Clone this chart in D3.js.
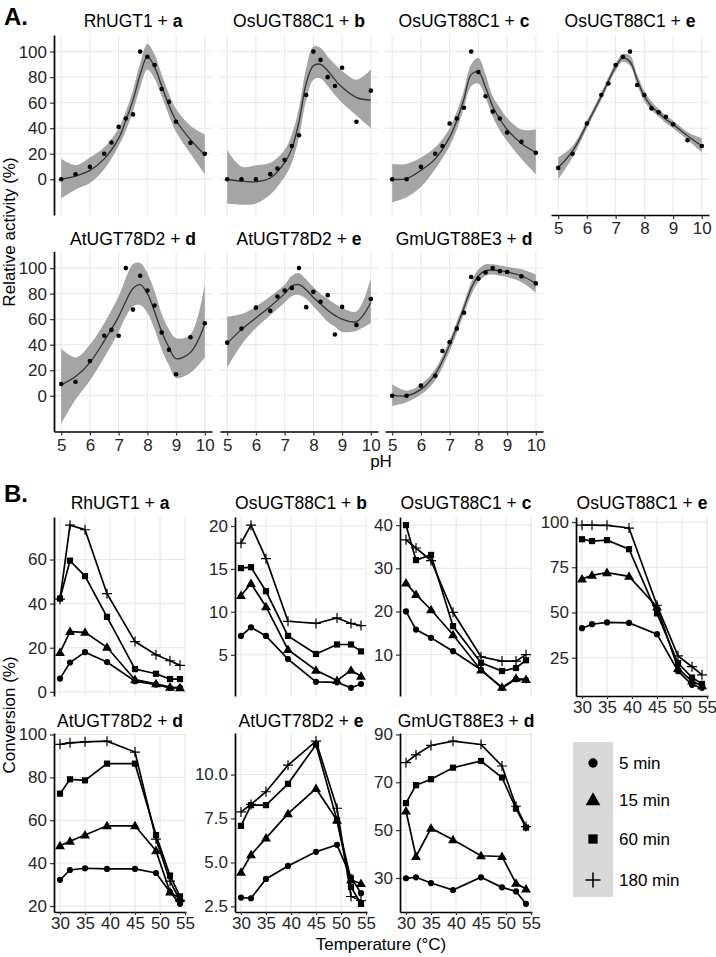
<!DOCTYPE html>
<html><head><meta charset="utf-8">
<script src="https://cdn.jsdelivr.net/npm/d3@7"></script>
<style>body{margin:0;background:#fff} svg text{font-family:"Liberation Sans",Arial,Helvetica,sans-serif;}</style>
</head><body><svg id="c" width="716" height="957"></svg>
<script>
// ---------------- DATA ----------------
// Panel A: pH profiles
const aEnzymes = ["RhUGT1","OsUGT88C1","OsUGT88C1","OsUGT88C1","AtUGT78D2","AtUGT78D2","GmUGT88E3"];
const aSubstrates = ["a","b","c","e","d","e","d"];
const phPoints = [5,5.5,6,6.5,6.75,7,7.25,7.5,7.75,8,8.25,8.5,8.75,9,9.5,10];
const aPoints = [
  [0,3.9,9.7,20,28.8,41,47.6,50.8,100,96,89.5,70.7,60.7,45,28.5,19.9],
  [0,0,0,4,8.4,15,26,34.5,66,100,93.5,80,73,87.4,45,69.4],
  [0,0,9.7,20,26,43.7,47.6,56,100,84,65,53,47.6,36.6,29.3,20.7],
  [8.9,20,43.7,66,75,89.5,96,100,73.8,66,55.5,52.4,49,43,30.6,26],
  [9.2,11,27.2,47,51.6,47,100,67.5,94,82.5,70.7,49.5,36,16.8,45.8,56.8],
  [41.6,52.6,69,66.5,77.7,82.5,84.5,100,69.4,81.4,73.6,78.8,48,69.6,55.5,75.7],
  [0,0,7.9,15.7,35,42,52.6,65,93,91.6,96.6,100,97.6,96.9,93.5,88]
];
const fitPH = [5,5.5,6,6.5,7,7.25,7.5,7.75,8,8.25,8.5,8.75,9,9.5,10];
const aFit = [
  [0,2.5,7,16,32,46,62,82,96,88,73,58,46,31,19],
  [0,-1.5,-2,1,13,24,45,75,89,90,85,78,72,64,62],
  [0,0.5,7,16,33,46,63,82,84,72,57,47,39,28,21],
  [9,22,43,65,88,95,92,78,65,57,52,47,43,34,26],
  [8.5,15,26,43,62,74,84,87,80,66,50,38,29,34,56],
  [41,52,61,70,80,86,87,83,77,72,67,63,60,58,73],
  [0.5,0,5,17,40,54,69,84,94,98,98.5,98,97,94,88]
];
const aLow = [
  [-15,-8,-3,8,26,38,53,72,86,79,65,50,37,20,4],
  [-19,-20,-19,-12,2,13,33,62,78,79,73,66,60,50,40],
  [-18,-14,-6,8,26,39,56,73,75,64,49,38,30,16,4],
  [0,17,40,62,85,92,89,74,61,54,49,44,40,31,21],
  [-22,-3,12,30,50,62,70,71,65,52,36,24,14,18,30],
  [22,40,53,63,73,78,79,76,70,64,58,54,50,51,57],
  [-8,-5,1,12,35,49,64,79,89,94,95,94,93,89,81]
];
const aHigh = [
  [16,11,17,25,40,53,70,91,106,98,82,67,55,42,35],
  [23,10,11,13,23,35,56,87,104,103,96,90,85,78,86],
  [12,12,17,25,40,53,70,90,95,82,65,56,48,39,39],
  [17,26,46,68,91,98,97,82,69,61,55,50,46,37,32],
  [37,30,40,57,78,92,103,104,96,82,64,52,45,48,88],
  [62,64,70,78,87,94,96,91,85,80,76,72,69,66,92],
  [9,4,9,21,44,58,73,89,99,103,103,102,101,99,95]
];
const aXTicks = [5,6,7,8,9,10];
const aYTicks = [0,20,40,60,80,100];

// Panel B: temperature profiles
const bEnzymes = ["RhUGT1","OsUGT88C1","OsUGT88C1","OsUGT88C1","AtUGT78D2","AtUGT78D2","GmUGT88E3"];
const bSubstrates = ["a","b","c","e","d","e","d"];
const temps = [30,32,35,39.4,45,49.2,52,54];
const timeLabels = ["5 min","15 min","60 min","180 min"];
const bSeries = [
  [[6.0,13.3,18,13.5,4.8,3.3,1.8,1.8],[17.8,27.3,27,20.2,5.5,3.6,2.1,1.8],[42.3,59.5,52.5,34,10.3,8.2,5.8,5.8],[42,75.6,73.5,44.5,22.8,16.8,14.1,12]],
  [[7.2,8.2,7.2,4.5,1.85,1.8,1.15,1.6],[11.9,13.3,10.6,5.6,3.2,2.0,3.2,2.5],[15.1,15.2,12.4,7.2,5.1,6.2,6.2,5.4],[18,20.1,16.2,8.9,8.65,9.3,8.65,8.4]],
  [[20,15.8,13.9,10.8,6.5,2.3,4.3,4.1],[26.6,23.9,20.4,14.6,6.4,2.4,4.5,4.2],[40,31.9,33.1,16.6,8.1,6.2,6.9,8.7],[36.6,34.7,31.8,19.8,9.5,8.5,8.5,10]],
  [[41.3,43.5,44.5,44.2,38,17.5,10,8.3],[68.5,70.5,72,70,53,19,12,9.5],[90.5,89.5,90,85,49.5,22,14,10.5],[98.3,98.3,98.2,96.7,54,26,20,15.5]],
  [[32.2,36.8,37.6,37.3,37.3,35.4,26.5,21],[48.1,50.2,53.1,57.4,57.4,45.8,26.5,23.4],[72.4,79.1,78.6,86.4,86.4,53.1,34.2,24.5],[95.4,96.1,96.6,96.9,91.8,51.2,31.6,22.6]],
  [[3.0,2.96,4.06,4.8,5.6,6.0,4.15,3.25],[4.43,5.43,6.38,7.77,9.2,7.4,4.0,3.8],[7.08,8.26,8.26,9.47,11.7,7.4,3.6,2.64],[7.87,8.3,9.02,10.53,11.9,8.08,3.06,2.83]],
  [[29.9,30.3,27.9,25,30.3,26.1,24.4,19.2],[58,39,50.8,46,39.3,39,27.8,25.4],[61.3,68.8,71.3,76.1,78.9,72,59,51.1],[78.2,81.5,85.4,87.2,85.8,76.8,60,51.5]]
];
const bXTicks = [30,35,40,45,50,55];
const bYTicks = [[0,20,40,60],[5,10,15,20],[10,20,30,40],[25,50,75,100],[20,40,60,80,100],[2.5,5.0,7.5,10.0],[30,50,70,90]];
const bYFormat = ["d","d","d","d","d",".1f","d"];

// ---------------- LAYOUT ----------------
const svg = d3.select("#c");
const GRID = "#e6e6e6", TICKC = "#262626";
const FS = 17;

function styleAxis(g){
  g.select(".domain").attr("stroke","#000").attr("stroke-width",1.7);
  g.selectAll(".tick line").attr("stroke","#333").attr("stroke-width",1.2);
  g.selectAll(".tick text").attr("font-size",FS).attr("fill",TICKC)
    .attr("font-family",'"Liberation Sans",Arial,sans-serif');
  g.attr("font-family",null).attr("font-size",null);
}
function title(cx, base, enz, sub){
  const t = svg.append("text").attr("x",cx).attr("y",base).attr("text-anchor","middle")
    .attr("font-size",17.5).attr("fill","#000");
  t.append("tspan").text(enz + " + ");
  t.append("tspan").attr("font-weight","bold").text(sub);
}

// ---- Panel A ----
const aLeft = [54,220,385,551], aTop = [35,251.5], aW = 158, aH = 180;
svg.append("text").attr("x",4).attr("y",25).attr("font-size",24).attr("font-weight","bold").text("A.");
aEnzymes.forEach((enz,i)=>{
  const col = i%4, row = Math.floor(i/4);
  const x0 = aLeft[col], y0 = aTop[row];
  const x = d3.scaleLinear().domain([4.75,10.25]).range([x0,x0+aW]);
  const y = d3.scaleLinear().domain([-28,113]).range([y0+aH,y0]);
  const g = svg.append("g");
  aXTicks.forEach(t=>g.append("line").attr("x1",x(t)).attr("x2",x(t)).attr("y1",y0).attr("y2",y0+aH).attr("stroke",GRID).attr("stroke-width",1));
  aYTicks.forEach(t=>g.append("line").attr("x1",x0).attr("x2",x0+aW).attr("y1",y(t)).attr("y2",y(t)).attr("stroke",GRID).attr("stroke-width",1));
  const fit = fitPH.map((p,k)=>({p, f:aFit[i][k], lo:aLow[i][k], hi:aHigh[i][k]}));
  g.append("path").datum(fit).attr("fill","#9b9b9b").attr("fill-opacity",0.9)
    .attr("d", d3.area().x(d=>x(d.p)).y0(d=>y(d.lo)).y1(d=>y(d.hi)).curve(d3.curveCatmullRom));
  g.append("path").datum(fit).attr("fill","none").attr("stroke","#333").attr("stroke-width",1.3)
    .attr("d", d3.line().x(d=>x(d.p)).y(d=>y(d.f)).curve(d3.curveCatmullRom));
  g.selectAll("circle.pt").data(phPoints.map((p,k)=>({p,v:aPoints[i][k]}))).join("circle")
    .attr("cx",d=>x(d.p)).attr("cy",d=>y(d.v)).attr("r",2.3).attr("fill","#000");
  if(col===0){
    const ax = svg.append("g").attr("transform",`translate(${x0},0)`)
      .call(d3.axisLeft(y).tickValues(aYTicks).tickFormat(d3.format("d")).tickSize(4).tickPadding(3).tickSizeOuter(0));
    styleAxis(ax);
  }
  if(row===1 || i===3){
    const ax = svg.append("g").attr("transform",`translate(0,${y0+aH})`)
      .call(d3.axisBottom(x).tickValues(aXTicks).tickFormat(d3.format("d")).tickSize(4).tickPadding(3).tickSizeOuter(0));
    styleAxis(ax);
  }
  title(x0+aW/2, row===0?27:245, enz, aSubstrates[i]);
});
svg.append("text").attr("transform","translate(15,232) rotate(-90)").attr("text-anchor","middle")
  .attr("font-size",17).text("Relative activity (%)");
svg.append("text").attr("x",381).attr("y",467).attr("text-anchor","middle").attr("font-size",17).text("pH");

// ---- Panel B ----
const bLeft = [[54,235,400,576],[54,235,400]], bTop = [517,733], bW = 132, bH = 179;
svg.append("text").attr("x",4).attr("y",502).attr("font-size",24).attr("font-weight","bold").text("B.");
const shapes = ["circle","triangle","square","plus"];
function marker(g, type, cx, cy, s){
  if(type==="circle") g.append("circle").attr("cx",cx).attr("cy",cy).attr("r",3.1*s).attr("fill","#000");
  else if(type==="triangle") g.append("path").attr("transform",`translate(${cx},${cy+0.6*s})`)
    .attr("d",d3.symbol(d3.symbolTriangle, 42*s*s)()).attr("fill","#000");
  else if(type==="square") g.append("rect").attr("x",cx-3.1*s).attr("y",cy-3.1*s).attr("width",6.2*s).attr("height",6.2*s).attr("fill","#000");
  else { const h=5*s; g.append("path").attr("d",`M${cx-h},${cy}H${cx+h}M${cx},${cy-h}V${cy+h}`).attr("stroke","#000").attr("stroke-width",1.2*Math.min(s,1.3)).attr("fill","none"); }
}
bEnzymes.forEach((enz,i)=>{
  const col = i%4, row = Math.floor(i/4);
  const x0 = bLeft[row][col], y0 = bTop[row];
  const x = d3.scaleLinear().domain([28.8,55.2]).range([x0,x0+bW]);
  const all = bSeries[i].flat();
  const [mn,mx] = d3.extent(all), pad = (mx-mn)*0.05;
  const y = d3.scaleLinear().domain([mn-pad,mx+pad]).range([y0+bH,y0]);
  const g = svg.append("g");
  bXTicks.forEach(t=>g.append("line").attr("x1",x(t)).attr("x2",x(t)).attr("y1",y0).attr("y2",y0+bH).attr("stroke",GRID).attr("stroke-width",1));
  bYTicks[i].forEach(t=>g.append("line").attr("x1",x0).attr("x2",x0+bW).attr("y1",y(t)).attr("y2",y(t)).attr("stroke",GRID).attr("stroke-width",1));
  bSeries[i].forEach((ser,s)=>{
    const pts = temps.map((t,k)=>({t,v:ser[k]}));
    g.append("path").datum(pts).attr("fill","none").attr("stroke","#000").attr("stroke-width",1.7)
      .attr("d", d3.line().x(d=>x(d.t)).y(d=>y(d.v)));
    pts.forEach(d=>marker(g, shapes[s], x(d.t), y(d.v), 1));
  });
  const ay = svg.append("g").attr("transform",`translate(${x0},0)`)
    .call(d3.axisLeft(y).tickValues(bYTicks[i]).tickFormat(d3.format(bYFormat[i])).tickSize(4).tickPadding(3).tickSizeOuter(0));
  styleAxis(ay);
  if(row===1 || i===3){
    const ax = svg.append("g").attr("transform",`translate(0,${y0+bH})`)
      .call(d3.axisBottom(x).tickValues(bXTicks).tickFormat(d3.format("d")).tickSize(3).tickPadding(2).tickSizeOuter(0));
    styleAxis(ax);
  }
  title(x0+bW/2, row===0?509:727, enz, bSubstrates[i]);
});
svg.append("text").attr("transform","translate(15,715) rotate(-90)").attr("text-anchor","middle")
  .attr("font-size",17).text("Conversion (%)");
svg.append("text").attr("x",381).attr("y",950).attr("text-anchor","middle").attr("font-size",17).text("Temperature (°C)");

// legend
const lg = svg.append("g");
lg.append("rect").attr("x",573).attr("y",742).attr("width",40).attr("height",155).attr("fill","#d9d9d9");
const lgY = [763,800,839,880];
timeLabels.forEach((lab,k)=>{
  marker(lg, shapes[k], 593, lgY[k], 1.5);
  lg.append("text").attr("x",619).attr("y",lgY[k]+6).attr("font-size",17).text(lab);
});
</script></body></html>
